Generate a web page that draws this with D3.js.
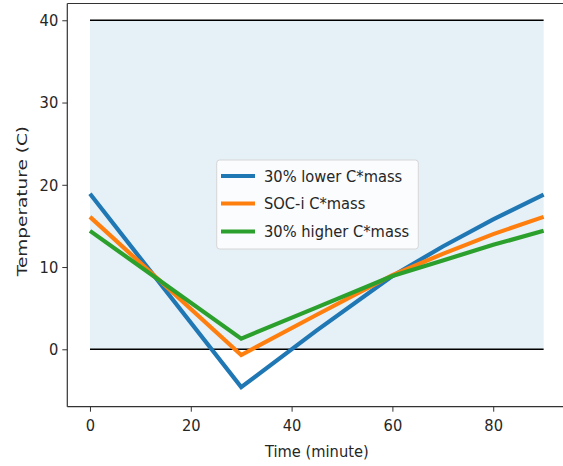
<!DOCTYPE html>
<html>
<head>
<meta charset="utf-8">
<script src="https://cdn.jsdelivr.net/npm/d3@7"></script>
<style>
  html, body { margin: 0; padding: 0; background: #fff; }
  svg { display: block; }
  text { font-family: "DejaVu Sans", sans-serif; fill: #262626; }
</style>
</head>
<body>
<svg id="chart" width="563" height="466"></svg>
<script>
// ---- data ----
const times = [0, 30, 45, 60, 70, 80, 90];
const lowerMass = [18.9, -4.6, 2.3, 8.9, 12.5, 15.8, 18.8];
const socMass = [16.1, -0.7, 4.2, 9.0, 11.6, 14.0, 16.1];
const higherMass = [14.4, 1.3, 5.1, 8.9, 10.8, 12.7, 14.4];
const seriesNames = ["30% lower C*mass", "SOC-i C*mass", "30% higher C*mass"];
const seriesColors = ["#1f77b4", "#ff7f0e", "#2ca02c"];
const xTicks = [0, 20, 40, 60, 80];
const yTicks = [0, 10, 20, 30, 40];
const bandRange = [0, 40];
const bandTimes = [0, 90];

(function () {
const svg = d3.select("#chart");
const pL = 67.3, pR = 566.3, pT = 3.5, pB = 406.7;
const FS = 16.5, SX = 0.89;
const x = d3.scaleLinear().domain([-4.5, 94.5]).range([pL, pR]);
const y = d3.scaleLinear().domain([-6.98, 42.04]).range([pB, pT]);

// shaded band
svg.append("rect")
  .attr("x", x(bandTimes[0])).attr("width", x(bandTimes[1]) - x(bandTimes[0]))
  .attr("y", y(bandRange[1])).attr("height", y(bandRange[0]) - y(bandRange[1]))
  .attr("fill", "#1f77b4").attr("fill-opacity", 0.11);

// horizontal lines at 0 and 40
bandRange.forEach(v => {
  svg.append("line")
    .attr("x1", x(bandTimes[0])).attr("x2", x(bandTimes[1]))
    .attr("y1", y(v)).attr("y2", y(v))
    .attr("stroke", "#000").attr("stroke-width", 1.6);
});

// series
const allSeries = [lowerMass, socMass, higherMass];
const line = d3.line().x((d, i) => x(times[i])).y(d => y(d));
allSeries.forEach((vals, k) => {
  svg.append("path").datum(vals)
    .attr("d", line)
    .attr("fill", "none")
    .attr("stroke", seriesColors[k])
    .attr("stroke-width", 4.2)
    .attr("stroke-linejoin", "miter");
});

// axes
const xAxis = d3.axisBottom(x).tickValues(xTicks).tickSize(5).tickPadding(8);
const yAxis = d3.axisLeft(y).tickValues(yTicks).tickSize(5).tickPadding(4);
const gx = svg.append("g").attr("transform", `translate(0,${pB})`).call(xAxis);
const gy = svg.append("g").attr("transform", `translate(${pL},0)`).call(yAxis);
[gx, gy].forEach(g => {
  g.select(".domain").remove();
  g.selectAll(".tick line").attr("stroke", "#333").attr("stroke-width", 1);
  g.selectAll(".tick text").attr("font-size", FS).attr("fill", "#262626")
    .style("font-family", "DejaVu Sans, sans-serif");
});
gx.selectAll(".tick text").each(function () {
  const t = d3.select(this);
  const yy = +t.attr("y");
  t.attr("y", 0).attr("transform", `translate(0,${yy}) scale(${SX},1)`);
});
gy.selectAll(".tick text").each(function () {
  const t = d3.select(this);
  const xx = +t.attr("x");
  t.attr("x", 0).attr("transform", `translate(${xx},0) scale(${SX},1)`);
});

// spines
const sp = svg.append("g").attr("stroke", "#333").attr("stroke-width", 1.2).attr("fill", "none");
sp.append("line").attr("x1", pL).attr("x2", pL).attr("y1", pT).attr("y2", pB);
sp.append("line").attr("x1", pL).attr("x2", pR).attr("y1", pB).attr("y2", pB);
sp.append("line").attr("x1", pL).attr("x2", pR).attr("y1", pT).attr("y2", pT);
sp.append("line").attr("x1", pR).attr("x2", pR).attr("y1", pT).attr("y2", pB);

// axis labels
svg.append("text").attr("transform", `translate(${(pL + pR) / 2},457) scale(${SX},1)`)
  .attr("text-anchor", "middle").attr("font-size", FS).text("Time (minute)");
svg.append("text").attr("transform", `translate(27,${(pT + pB) / 2 - 4}) rotate(-90) scale(1.12,${SX})`)
  .attr("text-anchor", "middle").attr("font-size", FS).text("Temperature (C)");

// legend
const lg = svg.append("g");
lg.append("rect").attr("x", 216.7).attr("y", 160).attr("width", 201.6).attr("height", 89)
  .attr("rx", 3).attr("fill", "#fff").attr("fill-opacity", 0.8)
  .attr("stroke", "#d6d6d6").attr("stroke-width", 1);
const rowY = [176, 203.5, 231.5];
seriesNames.forEach((name, k) => {
  lg.append("line").attr("x1", 221).attr("x2", 255).attr("y1", rowY[k]).attr("y2", rowY[k])
    .attr("stroke", seriesColors[k]).attr("stroke-width", 4.2);
  lg.append("text").attr("transform", `translate(264,${rowY[k]}) scale(${SX},1)`)
    .attr("dy", "0.36em").attr("font-size", FS).text(name);
});
})();
</script>
</body>
</html>
